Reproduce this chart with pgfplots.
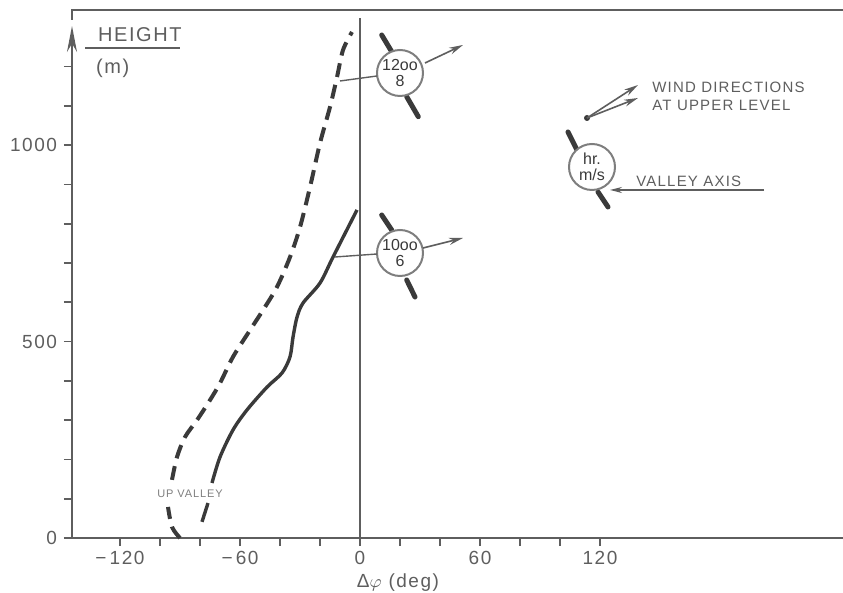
\documentclass[border=0pt]{standalone}
\usepackage{fontspec}
\setmainfont{Liberation Sans}
\newfontfamily\lettering[LetterSpace=8]{Liberation Sans}
\usepackage{pgfplots}
\pgfplotsset{compat=1.18}
\usetikzlibrary{arrows.meta}
\definecolor{ink}{HTML}{3A3A3A}
\definecolor{pen}{HTML}{5E5E5E}

\begin{document}
\begin{tikzpicture}
\useasboundingbox (-36pt,-27.5pt) rectangle (385.5pt,269pt);
\begin{axis}[
    at={(0,0)}, anchor=south west,
    scale only axis, width=385.5pt, height=264pt,
    xmin=-144, xmax=241.5, ymin=0, ymax=1344,
    axis lines*=left,
    x axis line style={pen, line width=1pt},
    y axis line style={draw=none},
    xtick={-120,-60,0,60,120},
    xticklabels={−\,120,−\,60,0,60,120},
    minor xtick={-100,-80,-40,-20,20,40,80,100},
    ytick={0,500,1000},
    minor ytick={100,200,300,400,600,700,800,900,1100,1200},
    tick align=outside,
    major tick length=4pt, minor tick length=4pt,
    every tick/.style={pen, line width=0.8pt},
    tick label style={font=\lettering\fontsize{9.5}{10}\selectfont, text=pen},
    xticklabel style={yshift=1pt},
    /pgf/number format/assume math mode=true,
    /pgf/number format/1000 sep={},
    clip=false,
]
% zero line
\addplot[pen, line width=0.6pt] coordinates {(0,0) (0,1324)};

% 12.00 h, dashed (below and above the label)
\addplot[ink, line width=2pt, dash pattern=on 7pt off 4pt, smooth, tension=0.5]
  coordinates {(-90,0) (-94,28) (-96,79)};
\addplot[ink, line width=2pt, dash pattern=on 7pt off 4pt, smooth, tension=0.5]
  coordinates {(-94,148) (-91.5,206) (-87.5,257) (-81.5,300) (-75,351) (-70,394)
    (-63.5,461) (-55,529) (-48.5,580) (-41.5,639) (-35,715) (-30,791) (-25,893)
    (-20,1005) (-15,1097) (-11.5,1173) (-8.5,1242) (-4,1288)};

% 10.00 h, solid
\addplot[ink, line width=1.7pt, smooth, tension=0.5]
  coordinates {(-79,41) (-76,89)};
\addplot[ink, line width=1.7pt, smooth, tension=0.5]
  coordinates {(-74,140) (-70,206) (-63.5,275) (-56.5,326) (-46.5,384) (-39,420)
    (-35,461) (-33.5,511) (-31.5,562) (-28.5,598) (-20,649) (-13.5,715) (-1.5,835)};
\end{axis}

% annotations in pixel coordinates of the figure
\begin{scope}[x=0.5pt, y=-0.5pt, shift={(-36pt,269pt)}]
  % frame and height axis
  \draw[pen, line width=1pt] (72,20) -- (72,10) -- (843,10);
  \draw[pen, line width=1pt, -{Stealth[length=13pt,width=5pt]}] (72,538) -- (72,26);
  \node[anchor=west, text=pen, font=\lettering\fontsize{10}{12}\selectfont] at (91,35) {HEIGHT};
  \draw[pen, line width=0.8pt] (85,48) -- (180,48);
  \node[anchor=west, text=pen, font=\lettering\fontsize{10}{12}\selectfont] at (89,68) {(m)};
  \node[text=pen, font=\lettering\fontsize{9.5}{11}\selectfont] at (398,583) {Δ$\varphi$ (deg)};
  \node[text=pen!80, font=\lettering\fontsize{5.5}{6}\selectfont] at (190,494) {UP VALLEY};

  % 12.00 symbol
  \draw[ink, line width=2.5pt, line cap=round] (381.7,35) -- (391.7,51.7) (406.7,96.7) -- (418.3,116.7);
  \draw[pen!80, line width=1pt, fill=white] (400,73) circle[radius=23];
  \node[text=ink, font=\fontsize{8}{9}\selectfont, align=center, inner sep=0pt] at (400,73) {12oo\\[-1pt]8};
  \draw[pen, line width=0.8pt, -{Stealth[length=7pt,width=3.5pt]}] (425,63) -- (463,45);
  \draw[pen, line width=0.7pt] (377,76) -- (340,81);

  % 10.00 symbol
  \draw[ink, line width=2.5pt, line cap=round] (381.7,215) -- (391.7,230) (406.7,280) -- (415,297);
  \draw[pen!80, line width=1pt, fill=white] (400,253) circle[radius=23];
  \node[text=ink, font=\fontsize{8}{9}\selectfont, align=center, inner sep=0pt] at (400,253) {10oo\\[-1pt]6};
  \draw[pen, line width=0.8pt, -{Stealth[length=7pt,width=3.5pt]}] (423,248) -- (463,238);
  \draw[pen, line width=0.7pt] (377,254) -- (335,257);

  % key
  \draw[ink, line width=2.5pt, line cap=round] (568,132) -- (578,152) (598,192) -- (608,207);
  \draw[pen!80, line width=1pt, fill=white] (592,167) circle[radius=23];
  \node[text=ink, font=\fontsize{8}{9}\selectfont, align=center, inner sep=0pt] at (592,167) {hr.\\[-1pt]m/s};
  \fill[ink] (587,118) circle[radius=3];
  \draw[pen, line width=0.8pt, -{Stealth[length=7pt,width=3.5pt]}] (587,118) -- (638,85);
  \draw[pen, line width=0.8pt, -{Stealth[length=7pt,width=3.5pt]}] (587,118) -- (638,98);
  \node[anchor=west, text=pen, font=\lettering\fontsize{7.5}{9}\selectfont, align=left, inner sep=0pt]
    at (652,96) {WIND DIRECTIONS\\AT UPPER LEVEL};
  \node[anchor=west, text=pen, font=\lettering\fontsize{7.5}{9}\selectfont, inner sep=0pt] at (636,181) {VALLEY AXIS};
  \draw[pen, line width=0.7pt, -{Stealth[length=6pt,width=3pt]}] (764,190) -- (610,190);
\end{scope}
\end{tikzpicture}
\end{document}
